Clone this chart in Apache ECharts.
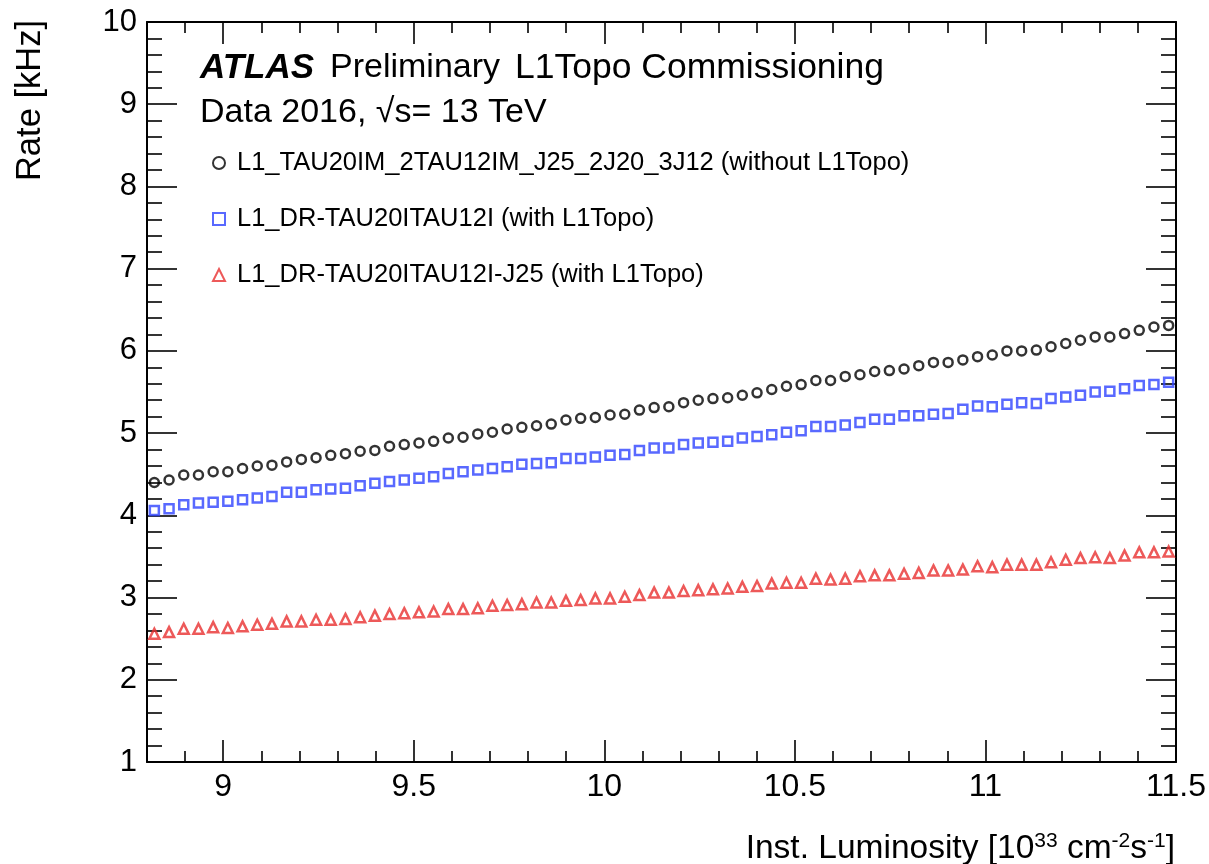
<!DOCTYPE html>
<html>
<head>
<meta charset="utf-8">
<script src="https://cdn.jsdelivr.net/npm/echarts@6.0.0/dist/echarts.min.js"></script>
<style>
  html, body { margin: 0; padding: 0; background: #fff; }
  #chart { width: 1209px; height: 864px; }
</style>
</head>
<body>
<div id="chart"></div>
<script>
// inst. luminosity bin centres [1e33 cm-2 s-1]
const lumi = [
  8.8193, 8.8579, 8.8964, 8.9350, 8.9736, 9.0121, 9.0507, 9.0893, 9.1279, 9.1664,
  9.2050, 9.2436, 9.2821, 9.3207, 9.3593, 9.3979, 9.4364, 9.4750, 9.5136, 9.5521,
  9.5907, 9.6293, 9.6679, 9.7064, 9.7450, 9.7836, 9.8221, 9.8607, 9.8993, 9.9379,
  9.9764, 10.0150, 10.0536, 10.0921, 10.1307, 10.1693, 10.2079, 10.2464, 10.2850, 10.3236,
  10.3621, 10.4007, 10.4393, 10.4779, 10.5164, 10.5550, 10.5936, 10.6321, 10.6707, 10.7093,
  10.7479, 10.7864, 10.8250, 10.8636, 10.9021, 10.9407, 10.9793, 11.0179, 11.0564, 11.0950,
  11.1336, 11.1721, 11.2107, 11.2493, 11.2879, 11.3264, 11.3650, 11.4036, 11.4421, 11.4807
];

// rates [kHz]
const rateNoTopo = [
  4.40, 4.43, 4.49, 4.49, 4.53, 4.53, 4.57, 4.60, 4.61, 4.65,
  4.68, 4.70, 4.73, 4.75, 4.78, 4.79, 4.84, 4.86, 4.88, 4.90,
  4.94, 4.95, 4.99, 5.01, 5.05, 5.07, 5.09, 5.11, 5.16, 5.18,
  5.19, 5.22, 5.23, 5.28, 5.31, 5.32, 5.37, 5.40, 5.42, 5.43,
  5.46, 5.49, 5.53, 5.57, 5.59, 5.64, 5.64, 5.69, 5.71, 5.75,
  5.76, 5.78, 5.82, 5.86, 5.86, 5.89, 5.93, 5.95, 6.00, 6.00,
  6.01, 6.05, 6.09, 6.13, 6.17, 6.17, 6.21, 6.25, 6.29, 6.31
];
const rateDR = [
  4.06, 4.08, 4.13, 4.15, 4.16, 4.17, 4.19, 4.21, 4.23, 4.28,
  4.28, 4.31, 4.32, 4.33, 4.36, 4.39, 4.41, 4.43, 4.45, 4.47,
  4.51, 4.53, 4.55, 4.57, 4.59, 4.62, 4.63, 4.64, 4.69, 4.69,
  4.71, 4.73, 4.74, 4.79, 4.82, 4.82, 4.86, 4.88, 4.89, 4.90,
  4.94, 4.96, 4.98, 5.01, 5.03, 5.08, 5.08, 5.10, 5.13, 5.17,
  5.17, 5.21, 5.21, 5.23, 5.24, 5.29, 5.33, 5.32, 5.35, 5.37,
  5.36, 5.42, 5.44, 5.46, 5.50, 5.51, 5.54, 5.58, 5.59, 5.62
];
const rateDRJ25 = [
  2.56, 2.58, 2.62, 2.62, 2.64, 2.63, 2.65, 2.67, 2.68, 2.71,
  2.71, 2.73, 2.73, 2.74, 2.76, 2.78, 2.80, 2.81, 2.82, 2.83,
  2.86, 2.86, 2.87, 2.90, 2.91, 2.92, 2.94, 2.94, 2.96, 2.97,
  2.99, 2.99, 3.01, 3.03, 3.06, 3.06, 3.08, 3.09, 3.10, 3.11,
  3.13, 3.14, 3.17, 3.18, 3.18, 3.23, 3.22, 3.23, 3.26, 3.27,
  3.27, 3.29, 3.30, 3.33, 3.33, 3.34, 3.38, 3.37, 3.40, 3.40,
  3.40, 3.43, 3.46, 3.48, 3.49, 3.48, 3.51, 3.55, 3.55, 3.56
];

const seriesNames = [
  'L1_TAU20IM_2TAU12IM_J25_2J20_3J12 (without L1Topo)',
  'L1_DR-TAU20ITAU12I (with L1Topo)',
  'L1_DR-TAU20ITAU12I-J25 (with L1Topo)'
];

const FONT = "'Liberation Sans', Arial, Helvetica, sans-serif";

const chart = echarts.init(document.getElementById('chart'), null, { renderer: 'canvas' });

const pairs = (ys) => lumi.map((x, i) => [x, ys[i]]);

// ROOT-style frame: ticks inside, mirrored on top/right
const xBase = {
  type: 'value',
  min: 8.8,
  max: 11.5,
  minInterval: 0.5,
  maxInterval: 0.5,
  axisLine: { show: true, onZero: false, lineStyle: { color: '#000', width: 2 } },
  axisTick: { show: true, inside: true, length: 22, lineStyle: { color: '#000', width: 1.6 } },
  minorTick: { show: true, splitNumber: 5, length: 11, lineStyle: { color: '#000', width: 1.6 } },
  splitLine: { show: false },
  minorSplitLine: { show: false }
};
const yBase = {
  type: 'value',
  min: 1,
  max: 10,
  interval: 1,
  axisLine: { show: true, onZero: false, lineStyle: { color: '#000', width: 2 } },
  axisTick: { show: true, inside: true, length: 30, lineStyle: { color: '#000', width: 1.6 } },
  minorTick: { show: true, splitNumber: 5, length: 15, lineStyle: { color: '#000', width: 1.6 } },
  splitLine: { show: false },
  minorSplitLine: { show: false }
};

const option = {
  backgroundColor: '#fff',
  animation: false,
  grid: { left: 147, right: 33, top: 22, bottom: 102, containLabel: false },
  xAxis: [
    Object.assign({}, xBase, {
      position: 'bottom',
      axisLabel: {
        show: true, showMinLabel: false, margin: 9,
        fontSize: 32, fontFamily: FONT, color: '#000',
        formatter: (v) => String(+v.toFixed(1))
      }
    }),
    Object.assign({}, xBase, { position: 'top', axisLabel: { show: false } })
  ],
  yAxis: [
    Object.assign({}, yBase, {
      position: 'left',
      axisLabel: { show: true, margin: 10, fontSize: 31, fontFamily: FONT, color: '#000' }
    }),
    Object.assign({}, yBase, { position: 'right', axisLabel: { show: false } })
  ],
  legend: {
    orient: 'vertical',
    left: 207,
    top: 143,
    itemWidth: 12,
    itemHeight: 12,
    itemGap: 26,
    data: seriesNames,
    textStyle: { fontSize: 25.5, lineHeight: 30, fontFamily: FONT, color: '#000', padding: [0, 0, 0, 7] }
  },
  graphic: [
    { type: 'text', x: 200, y: 68, style: { text: 'ATLAS', font: 'italic bold 35px ' + FONT, fill: '#000', verticalAlign: 'middle' } },
    { type: 'text', x: 330, y: 68, style: { text: 'Preliminary', font: '34px ' + FONT, fill: '#000', verticalAlign: 'middle' } },
    { type: 'text', x: 515, y: 68, style: { text: 'L1Topo Commissioning', font: '35.5px ' + FONT, fill: '#000', verticalAlign: 'middle' } },
    { type: 'text', x: 200, y: 113, style: { text: 'Data 2016, \u221As= 13 TeV', font: '34px ' + FONT, fill: '#000', verticalAlign: 'middle' } },
    {
      type: 'text', x: 30, y: 20, rotation: Math.PI / 2,
      style: { text: 'Rate [kHz]', font: '34.5px ' + FONT, fill: '#000', align: 'right', verticalAlign: 'middle' }
    },
    {
      type: 'text', x: 1175, y: 849,
      style: {
        text: 'Inst. Luminosity [10{sup|33} cm{sup|-2}s{sup|-1}]',
        fontSize: 33.5, fontFamily: FONT, fill: '#000', align: 'right', verticalAlign: 'middle',
        rich: { sup: { fontSize: 21, fontFamily: FONT, fill: '#000', verticalAlign: 'top', lineHeight: 36 } }
      }
    }
  ],
  series: [
    {
      name: seriesNames[0], type: 'scatter', xAxisIndex: 0, yAxisIndex: 0,
      symbol: 'circle', symbolSize: 9,
      itemStyle: { color: 'rgba(0,0,0,0)', borderColor: '#000', borderWidth: 2.5 },
      data: pairs(rateNoTopo)
    },
    {
      name: seriesNames[1], type: 'scatter', xAxisIndex: 0, yAxisIndex: 0,
      symbol: 'rect', symbolSize: 9,
      itemStyle: { color: 'rgba(0,0,0,0)', borderColor: '#2f43ff', borderWidth: 2.5 },
      data: pairs(rateDR)
    },
    {
      name: seriesNames[2], type: 'scatter', xAxisIndex: 0, yAxisIndex: 0,
      symbol: 'triangle', symbolSize: 10,
      itemStyle: { color: 'rgba(0,0,0,0)', borderColor: '#e83030', borderWidth: 2.5 },
      data: pairs(rateDRJ25)
    }
  ]
};

chart.setOption(option);
</script>
</body>
</html>
